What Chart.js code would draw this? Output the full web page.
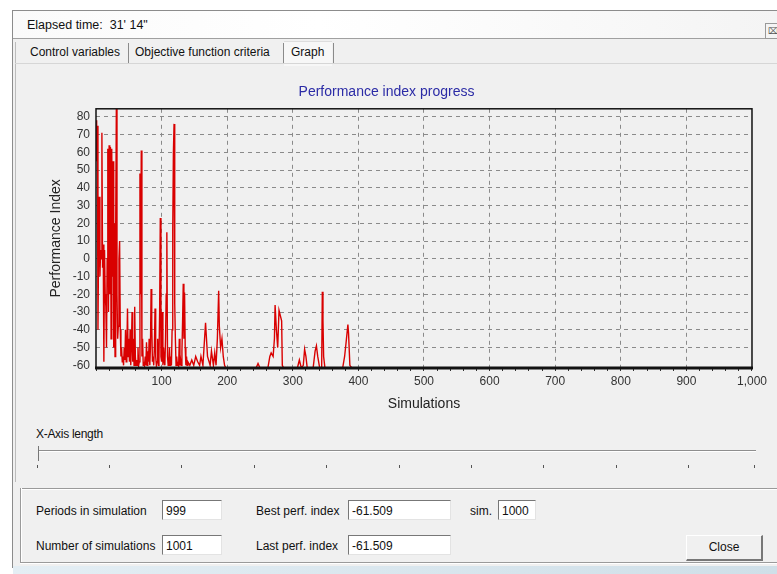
<!DOCTYPE html>
<html>
<head>
<meta charset="utf-8">
<title>Performance index progress</title>
<script src="https://cdn.jsdelivr.net/npm/chart.js@4.4.0/dist/chart.umd.min.js"></script>
<style>
body { margin:0; width:777px; height:574px; background:#fff; overflow:hidden; position:relative;
       font-family:"Liberation Sans", Arial, sans-serif; font-size:12px; color:#111; }
.abs { position:absolute; }
#win { left:12px; top:10px; width:770px; height:556px; border:1px solid #8c8c8c; background:#f0f0f0; }
#titlebar { left:13px; top:11px; width:764px; height:27px; background:linear-gradient(90deg,#fafafa,#fff 40%,#f4f4f4); border-bottom:1px solid #a0a0a0; }
#elapsed { left:27px; top:18px; font-size:12.5px; }
#xbox { left:765px; top:23px; width:14px; height:14px; border:1px solid #999; background:#f4f4f4; font-size:9px; line-height:14px; text-align:center; color:#555; }
#tabline { left:15px; top:63px; width:762px; height:1px; background:#d6d6d6; }
#panel { left:15px; top:42px; width:762px; height:440px; border-left:1px solid #bcbcbc; }
.tab { top:45px; font-size:12px; }
.sep { top:43px; width:1px; height:20px; background:#8a8a8a; }
#graphTab { left:284px; top:41px; width:48px; height:24px; background:#f7f7f7; border-top:1px solid #ddd; }
#chartBox { left:20px; top:78px; width:750px; height:335px; }
#sliderLbl { left:36px; top:427px; font-size:12px; letter-spacing:-0.3px; }
#track { left:38px; top:450px; width:718px; height:1px; background:#8e8e8e; border-bottom:1px solid #fff; }
#thumb { left:38px; top:446px; width:3px; height:15px; border-left:1px solid #777; }
.tick { top:465px; width:1px; height:3px; background:#555; }
#grpTop { left:20px; top:488px; width:757px; height:1px; background:#9a9a9a; border-bottom:1px solid #fff; }
#grpLeft { left:20px; top:488px; width:1px; height:74px; background:#9a9a9a; border-right:1px solid #fff; }
#grpBot { left:20px; top:562px; width:757px; height:1px; background:#9a9a9a; border-bottom:1px solid #fff; }
.lbl { font-size:12px; }
.box { height:20px; background:#fff; border-top:1px solid #777; border-left:1px solid #777; border-right:1px solid #e3e3e3; border-bottom:1px solid #e3e3e3; font-size:12px; line-height:20px; padding-left:3px; box-sizing:border-box; }
#closeBtn { left:686px; top:535px; width:77px; height:26px; background:#f0f0f0; border:1px solid #fff; border-right:2px solid #777; border-bottom:2px solid #777; box-sizing:border-box; text-align:center; line-height:23px; font-size:12px; }
#bottomStrip { left:13px; top:566px; width:764px; height:8px; background:linear-gradient(90deg,#e4eef4,#cfdfe8); }
</style>
</head>
<body>
<div class="abs" id="win"></div>
<div class="abs" id="titlebar"></div>
<div class="abs" id="elapsed">Elapsed time:&nbsp; 31' 14"</div>
<div class="abs" id="xbox">&#8999;</div>
<div class="abs" id="panel"></div>
<div class="abs" id="graphTab"></div>
<div class="abs" id="tabline"></div>
<div class="abs tab" style="left:30px">Control variables</div>
<div class="abs sep" style="left:128px"></div>
<div class="abs tab" style="left:135px">Objective function criteria</div>
<div class="abs sep" style="left:283px"></div>
<div class="abs tab" style="left:291px">Graph</div>
<div class="abs sep" style="left:333px"></div>

<div class="abs" id="chartBox"><canvas id="perfChart" width="750" height="335"></canvas></div>

<div class="abs" id="sliderLbl">X-Axis length</div>
<div class="abs" id="track"></div>
<div class="abs" id="thumb"></div>
<div id="sliderTicks"></div>

<div class="abs" id="grpTop"></div>
<div class="abs" id="grpLeft"></div>
<div class="abs" id="grpBot"></div>

<div class="abs lbl" style="left:36px;top:504px">Periods in simulation</div>
<div class="abs box" style="left:162px;top:500px;width:60px">999</div>
<div class="abs lbl" style="left:256px;top:504px">Best perf. index</div>
<div class="abs box" style="left:348px;top:500px;width:103px">-61.509</div>
<div class="abs lbl" style="left:470px;top:504px">sim.</div>
<div class="abs box" style="left:498px;top:500px;width:38px">1000</div>

<div class="abs lbl" style="left:36px;top:539px">Number of simulations</div>
<div class="abs box" style="left:162px;top:535px;width:60px">1001</div>
<div class="abs lbl" style="left:256px;top:539px">Last perf. index</div>
<div class="abs box" style="left:348px;top:535px;width:103px">-61.509</div>

<div class="abs" id="closeBtn">Close</div>
<div class="abs" id="bottomStrip"></div>

<script>
// simulation number / performance index
const sims = [
  0, 1, 2, 3, 4, 5, 6, 7, 8, 9, 10, 11, 12, 13, 14, 15, 16, 17, 18, 19,
  20, 21, 22, 23, 24, 25, 26, 27, 28, 29, 30, 31, 32, 33, 34, 35, 36, 37, 38, 39,
  40, 41, 42, 43, 44, 45, 46, 47, 48, 49, 50, 51, 52, 53, 54, 55, 56, 57, 58, 59,
  60, 61, 62, 63, 64, 65, 66, 67, 68, 69, 70, 71, 72, 73, 74, 75, 76, 77, 78, 79,
  80, 81, 82, 83, 84, 85, 86, 87, 88, 89, 90, 91, 92, 93, 94, 95, 96, 97, 98, 99,
  100, 101, 102, 103, 104, 105, 106, 107, 108, 109, 110, 111, 112, 113, 114, 115, 116, 117, 118, 119,
  120, 121, 122, 123, 124, 125, 126, 127, 128, 129, 130, 131, 132, 133, 134, 135, 136, 137, 138, 139,
  140, 143, 146, 149, 152, 155, 158, 160, 163, 167, 170, 174, 176, 179, 181, 183, 185, 187, 188, 190,
  192, 194, 196, 198, 244, 247, 250, 262, 265, 267, 270, 272, 273, 275, 277, 279, 281, 283, 284, 286,
  307, 310, 313, 316, 318, 320, 322, 331, 334, 336, 338, 341, 344, 345, 346, 347, 349, 376, 379, 381,
  384, 385, 387, 390, 1000
];
const perf = [
  78, 55, 75, -40, 10, 35, -10, 5, 0, 71, -5, 8, -58, 5, -20, -27, -50, 0, 62, -30,
  64, -20, 63, -45, 62, -10, 55, -50, 20, -55, 16, 84.5, -20, -45, -38, 0, 10, -40, -55, -50,
  -58, -55, -60, -50, -57, -40, -58, -52, -28, -55, -45, -58, -40, -60, -48, -30, -58, -45, -60, -27,
  -55, -60, -57, -60, -50, -60, -58, 48, -20, 61, -55, -45, -60, -58, -60, -55, -60, -47, -60, -52,
  -58, -45, -60, -50, -17, -37, -58, -55, -60, -50, -28, -55, -60, -58, -45, -60, -55, -30, 23, -55,
  -58, -30, -60, -50, -58, -60, -45, -20, 15, -55, -60, -58, -50, -60, -55, -60, -40, 17, 60, 76,
  -25, -45, -60, -55, -60, -58, -60, -45, -60, -57, -60, -52, -35, -14, -45, -19, -50, -60, -55, -60,
  -58, -60, -57, -60, -55, -58, -60, -55, -60, -36, -55, -60, -52, -60, -53, -60, -45, -18, -38, -50,
  -45, -55, -60, -61.5, -61.5, -59, -61.5, -61.5, -55, -53, -55, -45, -26, -40, -50, -29, -32, -35, -60, -61.5,
  -61.5, -57, -61.5, -60, -51, -55, -61.5, -61.5, -52, -49, -55, -61.5, -61.5, -18.5, -35, -55, -61.5, -61.5, -55, -48,
  -37, -42, -60, -61.5, -61.5
];

const yTicks = [-60, -50, -40, -30, -20, -10, 0, 10, 20, 30, 40, 50, 60, 70, 80];
const xTicks = [100, 200, 300, 400, 500, 600, 700, 800, 900, 1000];
const xMinorStep = 20;

// slider tick marks
const sliderTickX = [37, 109, 181, 254, 326, 399, 471, 543, 616, 688, 754];
const tickHolder = document.getElementById('sliderTicks');
sliderTickX.forEach(x => {
    tickHolder.insertAdjacentHTML('beforeend', `<div class="abs tick" style="left:${x}px"></div>`);
});

const frame = {
    id: 'frame',
    afterDatasetsDraw(chart) {
        const { ctx, chartArea: a } = chart;
        ctx.save();
        ctx.strokeStyle = '#111';
        ctx.lineWidth = 1.5;
        ctx.strokeRect(a.left, a.top, a.right - a.left, a.bottom - a.top);
        ctx.lineWidth = 3;
        ctx.beginPath();
        ctx.moveTo(a.left - 1, a.bottom);
        ctx.lineTo(a.right + 1, a.bottom);
        ctx.stroke();
        ctx.restore();
    }
};

const tickFont = { family: '"Liberation Sans", Arial, sans-serif', size: 12 };

new Chart(document.getElementById('perfChart'), {
    type: 'line',
    data: {
        datasets: [{
            label: 'Performance index',
            data: sims.map((s, i) => ({ x: s, y: perf[i] })),
            borderColor: '#d90000',
            borderWidth: 1.4,
            pointRadius: 0,
            tension: 0
        }]
    },
    options: {
        responsive: false,
        animation: false,
        layout: { padding: { left: 0, right: 17, top: 0, bottom: 0 } },
        plugins: {
            legend: { display: false },
            tooltip: { enabled: false },
            title: {
                display: true,
                text: 'Performance index progress',
                color: '#2b2ba6',
                font: { family: '"Liberation Sans", Arial, sans-serif', size: 14, weight: 'normal' },
                padding: { top: 6, bottom: 8 }
            }
        },
        scales: {
            x: {
                type: 'linear',
                min: 0,
                max: 1000,
                afterBuildTicks: axis => {
                    const t = [];
                    for (let v = 0; v <= 1000; v += xMinorStep) t.push({ value: v });
                    axis.ticks = t;
                },
                afterFit: axis => { axis.height = 45; },
                ticks: {
                    autoSkip: false,
                    maxRotation: 0,
                    padding: 3,
                    color: '#333',
                    font: tickFont,
                    callback: v => xTicks.includes(v) ? v.toLocaleString('en-US') : ''
                },
                grid: {
                    color: c => (c.tick && xTicks.includes(c.tick.value) && c.tick.value < 1000) ? '#8a8a8a' : 'rgba(0,0,0,0)',
                    tickColor: '#333',
                    tickLength: 3,
                    lineWidth: 1
                },
                border: { display: false, dash: [4, 4] },
                title: {
                    display: true,
                    text: 'Simulations',
                    color: '#222',
                    font: { family: '"Liberation Sans", Arial, sans-serif', size: 14 },
                    padding: { top: 2, bottom: 0 }
                }
            },
            y: {
                min: -61.5,
                max: 84.5,
                afterBuildTicks: axis => { axis.ticks = yTicks.map(v => ({ value: v })); },
                afterFit: axis => { axis.width = 76; },
                ticks: {
                    padding: 6,
                    color: '#333',
                    font: tickFont
                },
                grid: {
                    color: c => (c.tick && c.tick.value > -60) ? '#8a8a8a' : 'rgba(0,0,0,0)',
                    drawTicks: false,
                    lineWidth: 1
                },
                border: { display: false, dash: [4, 4] },
                title: {
                    display: true,
                    text: 'Performance Index',
                    color: '#222',
                    font: { family: '"Liberation Sans", Arial, sans-serif', size: 14 },
                    padding: { top: 28, bottom: 0 }
                }
            }
        }
    },
    plugins: [frame]
});
</script>
</body>
</html>
